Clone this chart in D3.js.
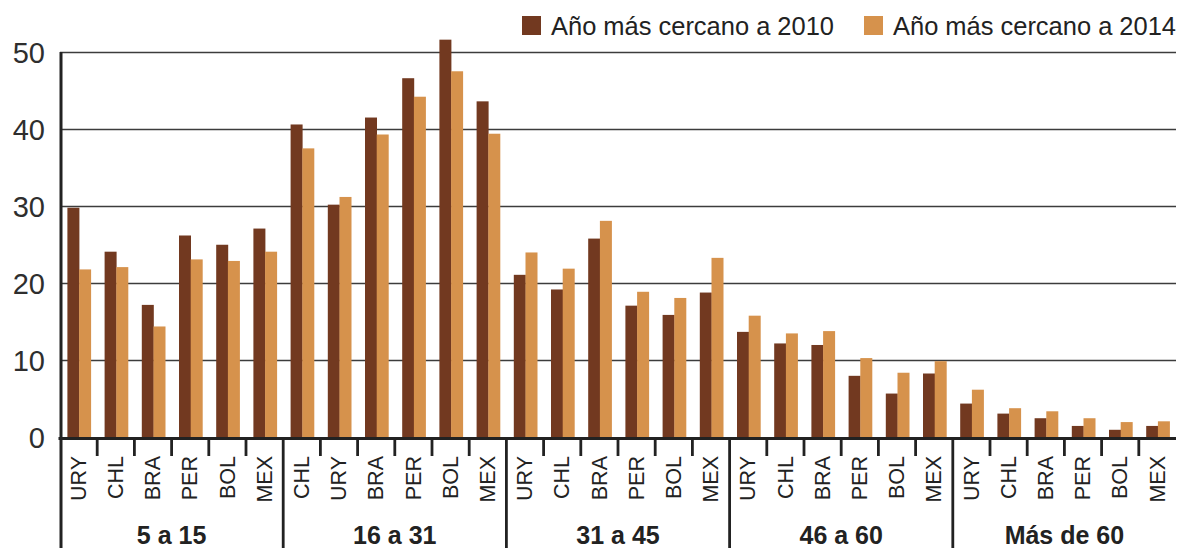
<!DOCTYPE html>
<html lang="es">
<head>
<meta charset="utf-8">
<title>Año más cercano a 2010 y 2014 por grupo de edad</title>
<script src="https://cdn.jsdelivr.net/npm/d3@7"></script>
<style>
  html, body { margin: 0; padding: 0; background: #fff; }
  svg { display: block; }
  text { font-family: "Liberation Sans", Arial, sans-serif; }
</style>
</head>
<body>
<svg id="chart" width="1180" height="548"></svg>
<script>
// Age groups and the countries shown inside each one
const groups = ["5 a 15", "16 a 31", "31 a 45", "46 a 60", "Más de 60"];
const countriesByGroup = [
  ["URY", "CHL", "BRA", "PER", "BOL", "MEX"],
  ["CHL", "URY", "BRA", "PER", "BOL", "MEX"],
  ["URY", "CHL", "BRA", "PER", "BOL", "MEX"],
  ["URY", "CHL", "BRA", "PER", "BOL", "MEX"],
  ["URY", "CHL", "BRA", "PER", "BOL", "MEX"]
];
const seriesNames = ["Año más cercano a 2010", "Año más cercano a 2014"];
const values2010 = [
  29.8, 24.1, 17.2, 26.2, 25.0, 27.1,
  40.6, 30.2, 41.5, 46.6, 51.6, 43.6,
  21.1, 19.2, 25.8, 17.1, 15.9, 18.8,
  13.7, 12.2, 12.0, 8.0, 5.7, 8.3,
  4.4, 3.1, 2.5, 1.5, 1.0, 1.5
];
const values2014 = [
  21.8, 22.1, 14.4, 23.1, 22.9, 24.1,
  37.5, 31.2, 39.3, 44.2, 47.5, 39.4,
  24.0, 21.9, 28.1, 18.9, 18.1, 23.3,
  15.8, 13.5, 13.8, 10.3, 8.4, 9.9,
  6.2, 3.8, 3.4, 2.5, 2.0, 2.1
];
const yTicks = [0, 10, 20, 30, 40, 50];
const colors = ["#723920", "#d6924c"];

const svg = d3.select("#chart");
const plotLeft = 60, plotRight = 1176, plotTop = 52, base = 437.5, plotBottom = 548;

// one slot per country/group pair
const rows = [];
groups.forEach((g, gi) => countriesByGroup[gi].forEach((c, ci) => {
  const i = gi * 6 + ci;
  rows.push({ key: i, group: g, country: c, v: [values2010[i], values2014[i]] });
}));

const x = d3.scaleBand().domain(rows.map(d => d.key)).range([plotLeft, plotRight]).padding(0);
const xSeries = d3.scaleBand().domain([0, 1]).range([0, 23.4]);
const y = d3.scaleLinear().domain([0, 50]).range([base, plotTop]);

// horizontal grid lines
svg.append("g")
  .selectAll("line")
  .data(yTicks.filter(t => t > 0))
  .join("line")
  .attr("x1", plotLeft).attr("x2", plotRight)
  .attr("y1", d => Math.round(y(d)) + 0.5).attr("y2", d => Math.round(y(d)) + 0.5)
  .attr("stroke", "#3c3c3c").attr("stroke-width", 1.3);

// y axis labels
const yAxis = d3.axisLeft(y).tickValues(yTicks).tickSize(0).tickPadding(15);
const ya = svg.append("g").attr("transform", `translate(${plotLeft},0)`).call(yAxis);
ya.select(".domain").remove();
ya.selectAll("text")
  .attr("font-size", 29).attr("fill", "#2e2e2e")
  .attr("font-family", "'Liberation Sans', Arial, sans-serif")
  .attr("dy", "0.36em");

// bars
const slot = svg.append("g")
  .selectAll("g")
  .data(rows)
  .join("g")
  .attr("transform", d => `translate(${x(d.key) + x.bandwidth() / 2 - 11.2},0)`);
slot.selectAll("rect")
  .data(d => d.v.map((v, s) => ({ v, s })))
  .join("rect")
  .attr("x", d => xSeries(d.s))
  .attr("width", xSeries.bandwidth() + 0.3)
  .attr("y", d => y(d.v))
  .attr("height", d => base - y(d.v))
  .attr("fill", d => colors[d.s]);

// category axis: baseline, small ticks and country labels
const xa = svg.append("g");
xa.selectAll("line.tick")
  .data(rows.filter((d, i) => i % 6 !== 5))
  .join("line")
  .attr("class", "tick")
  .attr("x1", d => x(d.key) + x.bandwidth()).attr("x2", d => x(d.key) + x.bandwidth())
  .attr("y1", base).attr("y2", 456)
  .attr("stroke", "#222").attr("stroke-width", 2.8);

// group separators reach the bottom edge
xa.selectAll("line.sep")
  .data(d3.range(1, groups.length))
  .join("line")
  .attr("class", "sep")
  .attr("x1", i => x(i * 6)).attr("x2", i => x(i * 6))
  .attr("y1", base).attr("y2", plotBottom)
  .attr("stroke", "#222").attr("stroke-width", 2.8);

xa.append("line")
  .attr("x1", plotLeft - 1.5).attr("x2", plotRight)
  .attr("y1", base + 1).attr("y2", base + 1)
  .attr("stroke", "#222").attr("stroke-width", 3.2);

xa.append("line")
  .attr("x1", plotLeft + 1).attr("x2", plotLeft + 1)
  .attr("y1", plotTop).attr("y2", plotBottom)
  .attr("stroke", "#222").attr("stroke-width", 3);

xa.selectAll("text.country")
  .data(rows)
  .join("text")
  .attr("class", "country")
  .attr("transform", d => `translate(${x(d.key) + x.bandwidth() / 2 - 0.5},456) rotate(-90)`)
  .attr("text-anchor", "end")
  .attr("dy", "0.36em")
  .attr("font-size", 21.5)
  .attr("fill", "#222")
  .text(d => d.country);

xa.selectAll("text.group")
  .data(groups)
  .join("text")
  .attr("class", "group")
  .attr("x", (g, i) => (x(i * 6) + x(i * 6 + 5) + x.bandwidth()) / 2)
  .attr("y", 544)
  .attr("text-anchor", "middle")
  .attr("font-size", 25)
  .attr("font-weight", "bold")
  .attr("fill", "#222")
  .text(g => g);

// legend
const legendX = [522, 864];
const legend = svg.append("g")
  .selectAll("g")
  .data(seriesNames)
  .join("g")
  .attr("transform", (d, i) => `translate(${legendX[i]},16)`);
legend.append("rect")
  .attr("width", 19).attr("height", 19)
  .attr("fill", (d, i) => colors[i]);
legend.append("text")
  .attr("x", 29).attr("y", 18.5)
  .attr("font-size", 25)
  .attr("fill", "#222")
  .attr("textLength", 283)
  .attr("lengthAdjust", "spacingAndGlyphs")
  .text(d => d);
</script>
</body>
</html>
